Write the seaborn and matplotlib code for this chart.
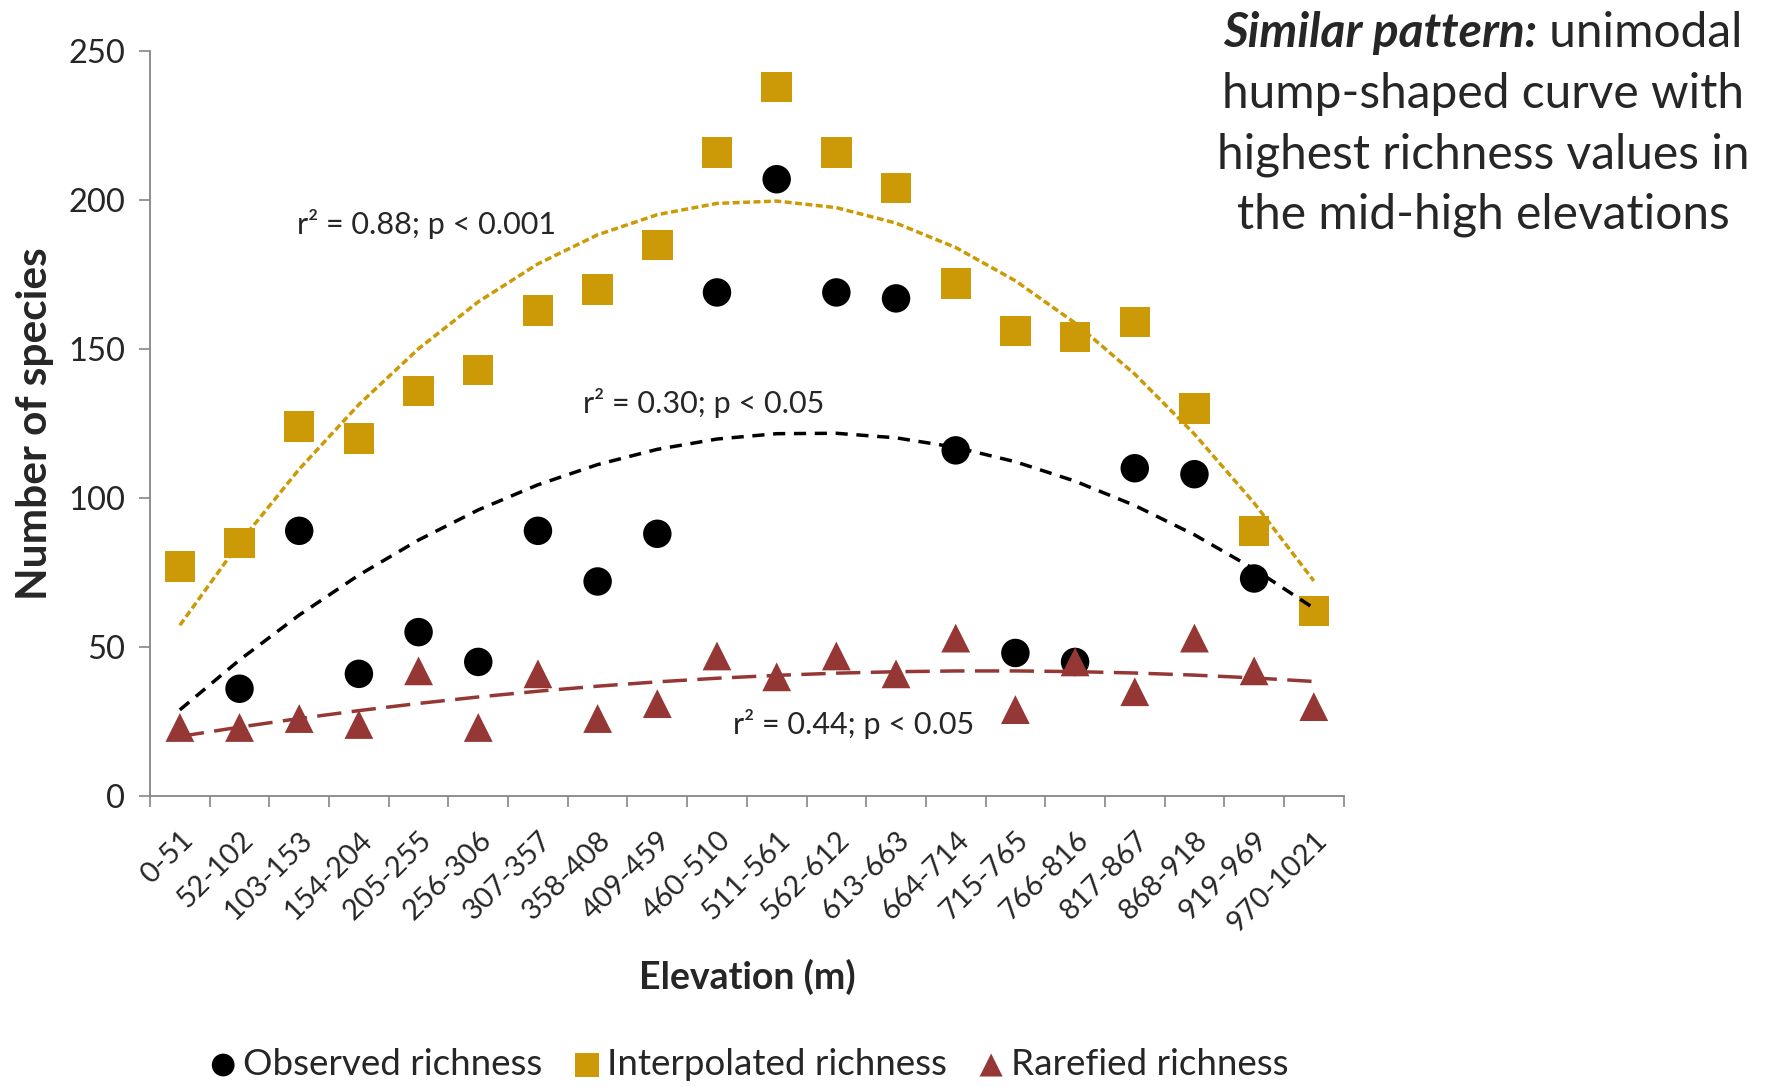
import numpy as np
import pandas as pd
import matplotlib
matplotlib.use("Agg")
import matplotlib.pyplot as plt
import seaborn as sns

# elevation bands (m)
bands = ["0-51", "52-102", "103-153", "154-204", "205-255", "256-306", "307-357",
         "358-408", "409-459", "460-510", "511-561", "562-612", "613-663", "664-714",
         "715-765", "766-816", "817-867", "868-918", "919-969", "970-1021"]

# first observed point sits under the square, last one too
observed = [77, 36, 89, 41, 55, 45, 89, 72, 88, 169, 207, 169, 167, 116, 48, 45, 110, 108, 73, 62]
interpolated = [77, 85, 124, 120, 136, 143, 163, 170, 185, 216, 238, 216, 204, 172, 156, 154, 159, 130, 89, 62]
rarefied = [23, 23, 26, 24, 42, 23, 41, 26, 31, 47, 40, 47, 41, 53, 29, 45, 35, 53, 42, 30]

fit_labels = ["r\u00b2 = 0.88; p < 0.001", "r\u00b2 = 0.30; p < 0.05", "r\u00b2 = 0.44; p < 0.05"]
note_lines = ["hump-shaped curve with", "highest richness values in", "the mid-high elevations"]

GOLD = "#CC9A06"
RED = "#953735"
BLACK = "#000000"


def trend(y, deg=2):
    x = np.arange(1, len(y) + 1)
    coef = np.polyfit(x, y, deg)
    return np.polyval(coef, x)


def main():
    sns.set_style("white")
    plt.rcParams["font.family"] = ["Lato", "DejaVu Sans"]

    x = np.arange(1, len(bands) + 1)
    df = pd.DataFrame({"pos": x, "Observed richness": observed,
                       "Interpolated richness": interpolated,
                       "Rarefied richness": rarefied})

    fig = plt.figure(figsize=(17.71, 10.87), dpi=100)
    ax = fig.add_axes([0.0847, 0.2677, 0.674, 0.6853])

    # points
    sns.scatterplot(data=df, x="pos", y="Observed richness", ax=ax, color=BLACK,
                    marker="o", s=420, edgecolor="none", label="Observed richness", zorder=3)
    sns.scatterplot(data=df, x="pos", y="Interpolated richness", ax=ax, color=GOLD,
                    marker="s", s=480, edgecolor="none", label="Interpolated richness", zorder=4)
    sns.scatterplot(data=df, x="pos", y="Rarefied richness", ax=ax, color=RED,
                    marker="^", s=430, edgecolor="none", label="Rarefied richness", zorder=5)

    # polynomial trend lines (drawn over the markers, like Excel)
    sns.lineplot(x=x, y=trend(interpolated), ax=ax, color=GOLD, lw=2.5,
                 linestyle=(0, (2, 1)), zorder=6)
    sns.lineplot(x=x, y=trend(observed), ax=ax, color=BLACK, lw=2.5,
                 linestyle=(0, (3.5, 2.5)), zorder=6)
    sns.lineplot(x=x, y=trend(rarefied), ax=ax, color=RED, lw=2.5,
                 linestyle=(0, (7, 3)), zorder=6)

    ax.set_xlim(0.5, len(bands) + 0.5)
    ax.set_ylim(0, 250)
    ax.set_yticks([0, 50, 100, 150, 200, 250])
    ax.tick_params(axis="y", labelsize=23.5, colors="#868686", labelcolor="#262626",
                   length=8, width=1.2, direction="out", left=True, pad=10)

    # ticks between categories, labels at centres
    ax.set_xticks(np.arange(0.5, len(bands) + 1, 1))
    ax.set_xticklabels([])
    ax.set_xticks(x, minor=True)
    ax.set_xticklabels(bands, minor=True, rotation=45, ha="right",
                       rotation_mode="anchor", fontsize=21, color="#262626")
    ax.tick_params(axis="x", which="major", length=8, width=1.2, color="#868686",
                   direction="out", bottom=True)
    ax.tick_params(axis="x", which="minor", length=0, pad=22)

    sns.despine(ax=ax)
    for side in ["left", "bottom"]:
        ax.spines[side].set_color("#868686")
        ax.spines[side].set_linewidth(1.3)

    ax.set_ylabel("Number of species", fontsize=30.5, fontweight="bold", labelpad=10)
    ax.set_xlabel("Elevation (m)", fontsize=27, fontweight="bold", labelpad=16)

    ax.text(2.96, 192, fit_labels[0], fontsize=22, color="#262626", va="center")
    ax.text(7.75, 132, fit_labels[1], fontsize=22, color="#262626", va="center")
    ax.text(10.26, 24, fit_labels[2], fontsize=22, color="#262626", va="center")

    # note in the top right corner
    cx = 0.8374
    renderer = fig.canvas.get_renderer()
    t1 = fig.text(0, 0.9564, "Similar pattern:", fontsize=34.5, fontweight="bold",
                  fontstyle="italic", ha="left", va="baseline")
    t2 = fig.text(0, 0.9564, " unimodal", fontsize=34.5, ha="left", va="baseline")
    w1 = t1.get_window_extent(renderer).width / fig.bbox.width
    w2 = t2.get_window_extent(renderer).width / fig.bbox.width
    x0 = cx - (w1 + w2) / 2
    t1.set_x(x0)
    t2.set_x(x0 + w1)
    for line, yb in zip(note_lines, [0.9007, 0.8452, 0.7896]):
        fig.text(cx, yb, line, fontsize=34.5, ha="center", va="baseline")

    ax.legend(loc="center", bbox_to_anchor=(0.5, -0.36), ncol=3, frameon=False,
              fontsize=26.5, handletextpad=0.05, columnspacing=0.7,
              markerscale=0.8, handlelength=1.0)
    fig.savefig("out.png", dpi=100)


if __name__ == "__main__":
    main()
